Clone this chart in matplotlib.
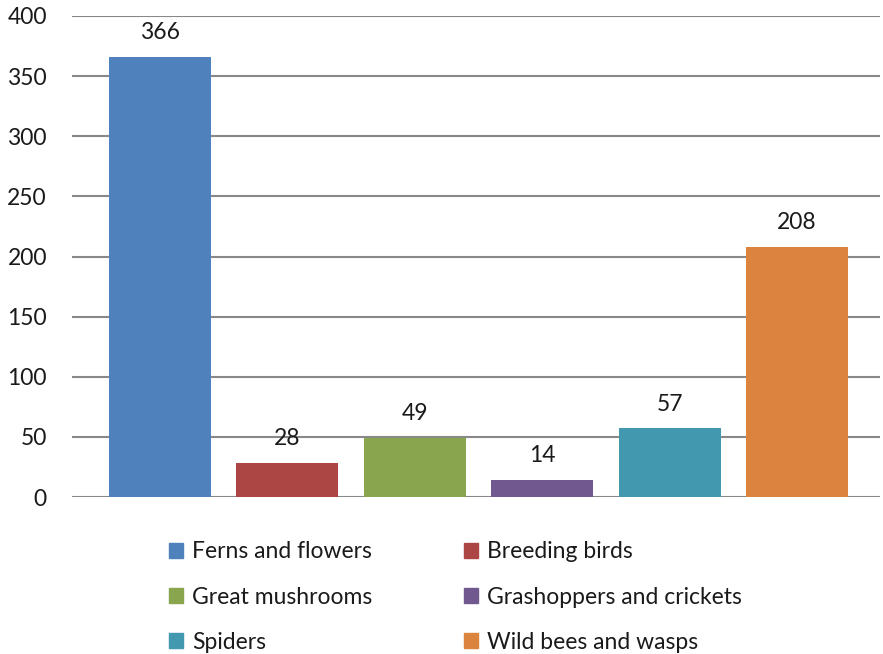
import matplotlib.pyplot as plt
import matplotlib.patches as mpatches

plt.rcParams['font.family'] = ['Lato', 'DejaVu Sans']

# species groups and how many were counted
groups = ['Ferns and flowers', 'Breeding birds', 'Great mushrooms',
          'Grashoppers and crickets', 'Spiders', 'Wild bees and wasps']
counts = [366, 28, 49, 14, 57, 208]
colors = ['#4f81bd', '#ab4644', '#89a54e', '#71588f', '#4198af', '#db843d']
yticks = [0, 50, 100, 150, 200, 250, 300, 350, 400]

fig = plt.figure(figsize=(8.83, 6.54), dpi=100)
ax = fig.add_axes([72/883, 1-497/654, 808/883, 481/654])

x = list(range(len(groups)))
bars = ax.bar(x, counts, width=0.8, color=colors, zorder=3)
for xi, v in zip(x, counts):
    ax.annotate(str(v), (xi, v), xytext=(0, 10), textcoords='offset points',
                ha='center', va='bottom', fontsize=16.5, color='#1a1a1a')

ax.set_xlim(-0.69, 5.65)
ax.set_ylim(0, 400)
ax.set_yticks(yticks)
ax.set_xticks([])
ax.tick_params(axis='y', length=0, pad=18, labelsize=16.5, labelcolor='#1a1a1a')
ax.grid(axis='y', color='#888888', linewidth=1.5, zorder=0)
for s in ax.spines.values():
    s.set_visible(False)

handles = [mpatches.Patch(color=c, label=g) for g, c in zip(groups, colors)]
order = [0, 2, 4, 1, 3, 5]
fig.legend([handles[i] for i in order], [groups[i] for i in order],
           ncol=2, loc='upper left', bbox_to_anchor=(158/883, 1-530/654),
           frameon=False, fontsize=16.5, handlelength=0.6, handleheight=0.6,
           handletextpad=0.4, labelspacing=1.05, columnspacing=4.0,
           borderpad=0, labelcolor='#1a1a1a')

fig.savefig('out.png', dpi=100)
